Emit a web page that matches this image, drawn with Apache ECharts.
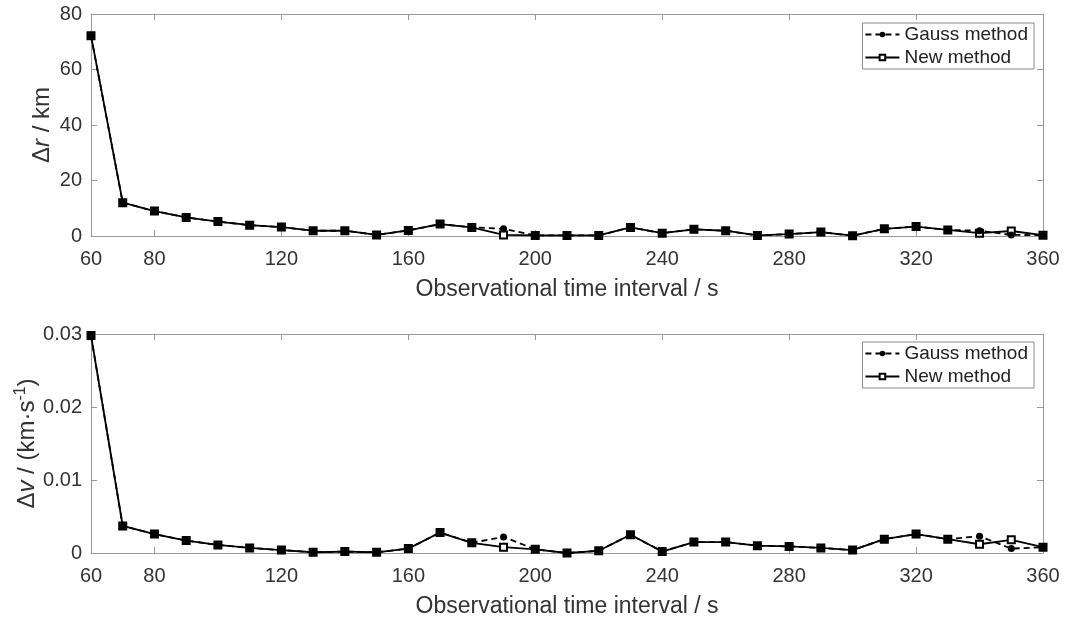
<!DOCTYPE html>
<html>
<head>
<meta charset="utf-8">
<script src="https://cdn.jsdelivr.net/npm/echarts@6/dist/echarts.min.js"></script>
<style>
  html, body { margin: 0; padding: 0; background: #fff; }
  #main { width: 1066px; height: 619px; }
</style>
</head>
<body>
<div id="main"></div>
<script>
var myChart = echarts.init(document.getElementById('main'));

// observational time interval / s
var times = [60, 70, 80, 90, 100, 110, 120, 130, 140, 150, 160, 170, 180, 190, 200, 210,
    220, 230, 240, 250, 260, 270, 280, 290, 300, 310, 320, 330, 340, 350, 360];
var xTicks = [60, 80, 120, 160, 200, 240, 280, 320, 360];

// position error / km
var drGauss = [72.2, 12.0, 9.0, 6.7, 5.2, 3.9, 3.2, 1.9, 1.9, 0.4, 2.0, 4.3, 3.1, 2.6, 0.2, 0.2,
    0.2, 3.1, 1.0, 2.4, 1.9, 0.2, 0.7, 1.4, 0.1, 2.6, 3.4, 2.2, 1.9, 0.4, 0.3];
var drNew = [72.2, 12.0, 9.0, 6.7, 5.2, 3.9, 3.2, 1.9, 1.9, 0.4, 2.0, 4.3, 3.1, 0.4, 0.2, 0.2,
    0.2, 3.1, 1.0, 2.4, 1.9, 0.2, 0.7, 1.4, 0.1, 2.6, 3.4, 2.2, 1.0, 1.8, 0.3];

// velocity error / (km/s)
var dvGauss = [0.0298, 0.0037, 0.0026, 0.0017, 0.0011, 0.0007, 0.0004, 0.0001, 0.0002, 0.0001,
    0.0006, 0.0028, 0.0014, 0.0022, 0.0005, 0.0000, 0.0003, 0.0025, 0.0002, 0.0015, 0.0015,
    0.0010, 0.0009, 0.0007, 0.0004, 0.0019, 0.0026, 0.0019, 0.0023, 0.0006, 0.0008];
var dvNew = [0.0298, 0.0037, 0.0026, 0.0017, 0.0011, 0.0007, 0.0004, 0.0001, 0.0002, 0.0001,
    0.0006, 0.0028, 0.0014, 0.0008, 0.0005, 0.0000, 0.0003, 0.0025, 0.0002, 0.0015, 0.0015,
    0.0010, 0.0009, 0.0007, 0.0004, 0.0019, 0.0026, 0.0019, 0.0012, 0.0018, 0.0008];

var fontFam = '"Liberation Sans", Arial, sans-serif';
var axisGray = '#999';
var textCol = '#333';

function pairs(ys) {
    return times.map(function (t, i) { return [t, ys[i]]; });
}

function xAxisPair(gridIndex) {
    var base = {
        type: 'value',
        gridIndex: gridIndex,
        min: 60,
        max: 360,
        splitLine: { show: false },
        axisLine: { show: true, onZero: false, lineStyle: { color: axisGray, width: 1 } },
        axisTick: { show: true, inside: true, length: 6, customValues: xTicks, lineStyle: { color: axisGray } }
    };
    var bottom = echarts.util.merge({
        position: 'bottom',
        name: 'Observational time interval / s',
        nameLocation: 'middle',
        nameGap: 42,
        nameTextStyle: { fontSize: 23, color: textCol, fontFamily: fontFam },
        axisLabel: {
            customValues: xTicks,
            fontSize: 20, color: textCol, fontFamily: fontFam, margin: 13
        }
    }, base, true);
    var top = echarts.util.merge({
        position: 'top',
        axisLabel: { show: false }
    }, base, true);
    return [bottom, top];
}

function yAxisPair(gridIndex, max, interval, name, gap, fmt) {
    var base = {
        type: 'value',
        gridIndex: gridIndex,
        min: 0,
        max: max,
        interval: interval,
        splitLine: { show: false },
        axisLine: { show: true, onZero: false, lineStyle: { color: axisGray, width: 1 } },
        axisTick: { show: true, inside: true, length: 6, lineStyle: { color: axisGray } }
    };
    var left = echarts.util.merge({
        position: 'left',
        name: name,
        nameLocation: 'middle',
        nameGap: gap,
        nameMoveOverlap: false,
        nameTextStyle: {
            fontSize: 24, color: textCol, fontFamily: fontFam,
            rich: {
                a: { fontSize: 24, color: textCol, fontFamily: fontFam },
                i: { fontSize: 24, color: textCol, fontFamily: fontFam, fontStyle: 'italic' },
                s: { fontSize: 16, color: textCol, fontFamily: fontFam, verticalAlign: 'top', padding: [0, 0, 12, 0] }
            }
        },
        axisLabel: { fontSize: 20, color: textCol, fontFamily: fontFam, margin: 9, formatter: fmt }
    }, base, true);
    var right = echarts.util.merge({
        position: 'right',
        axisLabel: { show: false }
    }, base, true);
    return [left, right];
}

function legendFor(top) {
    return {
        orient: 'vertical',
        right: 32,
        top: top,
        itemWidth: 34,
        itemHeight: 7,
        itemGap: 4,
        padding: [2, 6, 2, 2],
        borderColor: '#888',
        borderWidth: 1,
        backgroundColor: '#fff',
        textStyle: { fontSize: 19, color: '#222', fontFamily: fontFam },
        data: ['Gauss method', 'New method']
    };
}

function seriesPair(xi, yi, gauss, nw) {
    return [{
        name: 'New method',
        type: 'line',
        xAxisIndex: xi,
        yAxisIndex: yi,
        data: pairs(nw),
        symbol: 'emptyRect',
        symbolSize: 7,
        lineStyle: { color: '#000', width: 1.8, type: 'solid' },
        itemStyle: { color: '#000', borderColor: '#000', borderWidth: 1.2 },
        z: 3
    }, {
        name: 'Gauss method',
        type: 'line',
        xAxisIndex: xi,
        yAxisIndex: yi,
        data: pairs(gauss),
        symbol: 'circle',
        symbolSize: 7,
        lineStyle: { color: '#000', width: 1.8, type: [6, 4] },
        itemStyle: { color: '#000' },
        z: 4
    }];
}

var xa = xAxisPair(0).concat(xAxisPair(1));
var ya = yAxisPair(0, 80, 20, '{a|Δ}{i|r}{a| / km}', 37, function (v) { return String(v); })
    .concat(yAxisPair(1, 0.03, 0.01, '{a|Δ}{i|v}{a| / (km·s}{s|-1}{a|)}', 50,
        function (v) { return v === 0 ? '0' : v.toFixed(2); }));

option = {
    backgroundColor: '#fff',
    animation: false,
    grid: [
        { left: 91, right: 23, top: 14, height: 222, outerBoundsMode: 'none' },
        { left: 91, right: 23, top: 334, height: 219, outerBoundsMode: 'none' }
    ],
    legend: [legendFor(23), legendFor(342)],
    xAxis: xa,
    yAxis: ya,
    series: seriesPair(0, 0, drGauss, drNew).concat(seriesPair(2, 2, dvGauss, dvNew))
};
myChart.setOption(option);
</script>
</body>
</html>
